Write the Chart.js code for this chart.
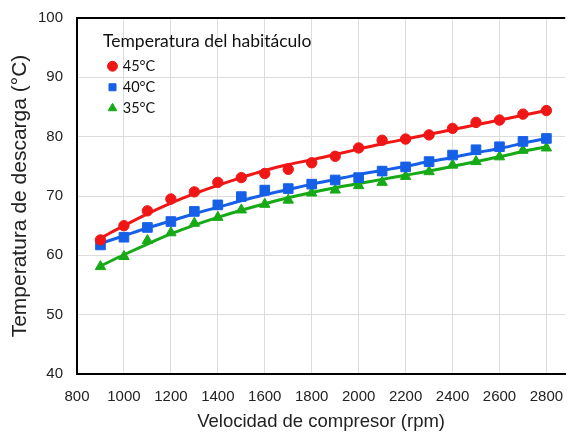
<!DOCTYPE html>
<html><head><meta charset="utf-8">
<script src="https://cdn.jsdelivr.net/npm/chart.js@4/dist/chart.umd.min.js"></script>
<style>html,body{margin:0;padding:0;background:#fff;}#wrap{width:573px;height:436px;}</style>
</head><body><div id="wrap"><canvas id="c" width="573" height="436"></canvas></div>
<script>
// ---- data ----
const rpm = [900,1000,1100,1200,1300,1400,1500,1600,1700,1800,1900,2000,2100,2200,2300,2400,2500,2600,2700,2800];
const pts45 = [62.6,65.0,67.5,69.5,70.7,72.3,73.1,73.8,74.5,75.6,76.7,78.1,79.4,79.6,80.3,81.4,82.4,82.8,83.8,84.4];
const pts40 = [61.75,63.05,64.7,65.7,67.4,68.5,69.9,71.0,71.25,72.0,72.7,73.1,74.2,74.9,75.8,76.9,77.8,78.3,79.2,79.7];
const pts35 = [58.1,59.8,62.5,63.8,65.4,66.4,67.65,68.6,69.3,70.5,71.0,71.75,72.3,73.3,74.1,75.2,75.8,76.6,77.7,78.1];
const fit45 = [62.9,65.0,67.0,68.8,70.4,71.8,73.1,74.3,75.3,76.1,77.0,77.9,78.8,79.6,80.4,81.2,82.0,82.8,83.6,84.4];
const fit40 = [62.0,63.3,64.6,65.8,67.0,68.1,69.2,70.2,71.1,72.0,72.8,73.6,74.3,75.0,75.8,76.5,77.3,78.0,78.9,79.7];
const fit35 = [58.2,60.1,61.9,63.6,65.1,66.4,67.6,68.7,69.7,70.6,71.4,72.1,72.8,73.5,74.2,75.0,75.8,76.6,77.5,78.3];
const seriesLabels = ['45°C','40°C','35°C'];
const legendTitle = 'Temperatura del habitáculo';
const xTitle = 'Velocidad de compresor (rpm)';
const yTitle = 'Temperatura de descarga (°C)';
const xTicks = [800,1000,1200,1400,1600,1800,2000,2200,2400,2600,2800];
const yTicks = [40,50,60,70,80,90,100];

const RED = '#f01616', BLUE = '#1660e8', GREEN = '#17aa17';
const toXY = (ys) => rpm.map((x, i) => ({x: x, y: ys[i]}));

Chart.defaults.font.family = "'Liberation Sans', Arial, sans-serif";

const legendShift = {
  id: 'legendShift',
  afterLayout(chart) {
    const lg = chart.legend, ca = chart.chartArea;
    if (!lg) return;
    const h = lg.bottom - lg.top;
    lg.left = ca.left + 26;
    lg.width = 320;
    lg.right = lg.left + lg.width;
    lg.top = ca.top;
    lg.bottom = lg.top + h;
  }
};

new Chart(document.getElementById('c'), {
  type: 'scatter',
  data: {
    datasets: [
      {label: seriesLabels[0], data: toXY(pts45), showLine: false, pointStyle: 'circle', pointRadius: 5.2,
       backgroundColor: RED, borderColor: RED, borderWidth: 1, order: 0},
      {label: seriesLabels[1], data: toXY(pts40), showLine: false, pointStyle: 'rect', pointRadius: 6.8,
       backgroundColor: BLUE, borderColor: BLUE, borderWidth: 1, order: 0},
      {label: seriesLabels[2], data: toXY(pts35), showLine: false, pointStyle: 'triangle', pointRadius: 6,
       backgroundColor: GREEN, borderColor: GREEN, borderWidth: 1, order: 0},
      {label: '', data: toXY(fit45), showLine: true, pointRadius: 0, borderColor: RED, borderWidth: 3,
       cubicInterpolationMode: 'monotone', order: 1},
      {label: '', data: toXY(fit40), showLine: true, pointRadius: 0, borderColor: BLUE, borderWidth: 3,
       cubicInterpolationMode: 'monotone', order: 1},
      {label: '', data: toXY(fit35), showLine: true, pointRadius: 0, borderColor: GREEN, borderWidth: 3,
       cubicInterpolationMode: 'monotone', order: 1}
    ]
  },
  options: {
    responsive: false,
    animation: false,
    layout: {padding: {left: 0, top: 18, right: 0, bottom: 3}},
    plugins: {
      tooltip: {enabled: false},
      legend: {
        position: 'chartArea',
        align: 'start',
        labels: {
          filter: (item) => item.datasetIndex < 3,
          usePointStyle: true,
          boxWidth: 6,
          boxHeight: 7,
          padding: 6.5,
          color: '#111',
          font: {family: 'Lato', size: 14.5}
        },
        title: {
          display: true,
          text: legendTitle,
          position: 'start',
          color: '#111',
          padding: {top: 15, bottom: -1.5},
          font: {family: 'Lato', size: 17.5}
        }
      }
    },
    scales: {
      x: {
        type: 'linear',
        min: 800,
        max: 2880,
        afterBuildTicks: (s) => { s.ticks = xTicks.map(v => ({value: v})); },
        afterFit: (s) => { s.height = 59; },
        grid: {color: '#dcdcdc', lineWidth: 1, drawTicks: true, tickLength: 14, tickColor: 'rgba(0,0,0,0)'},
        border: {display: true, color: '#000', width: 2},
        ticks: {padding: 0, color: '#222', font: {size: 15}, callback: (v) => String(v)},
        title: {display: true, text: xTitle, color: '#222', font: {size: 18.5}, padding: {top: 4, bottom: 0}}
      },
      y: {
        min: 40,
        max: 100,
        afterBuildTicks: (s) => { s.ticks = yTicks.map(v => ({value: v})); },
        afterFit: (s) => { s.width = 77; },
        grid: {
          color: (c) => (c.tick && c.tick.value === 100) ? '#000' : '#dcdcdc',
          lineWidth: (c) => (c.tick && c.tick.value === 100) ? 2 : 1,
          drawTicks: true, tickLength: 14, tickColor: 'rgba(0,0,0,0)'
        },
        border: {display: true, color: '#000', width: 2},
        ticks: {padding: 0, color: '#222', font: {size: 15}, callback: (v) => String(v)},
        title: {display: true, text: yTitle, color: '#222', font: {size: 21}, padding: {top: 8, bottom: 5}}
      }
    }
  },
  plugins: [legendShift]
});
</script>
</body></html>
